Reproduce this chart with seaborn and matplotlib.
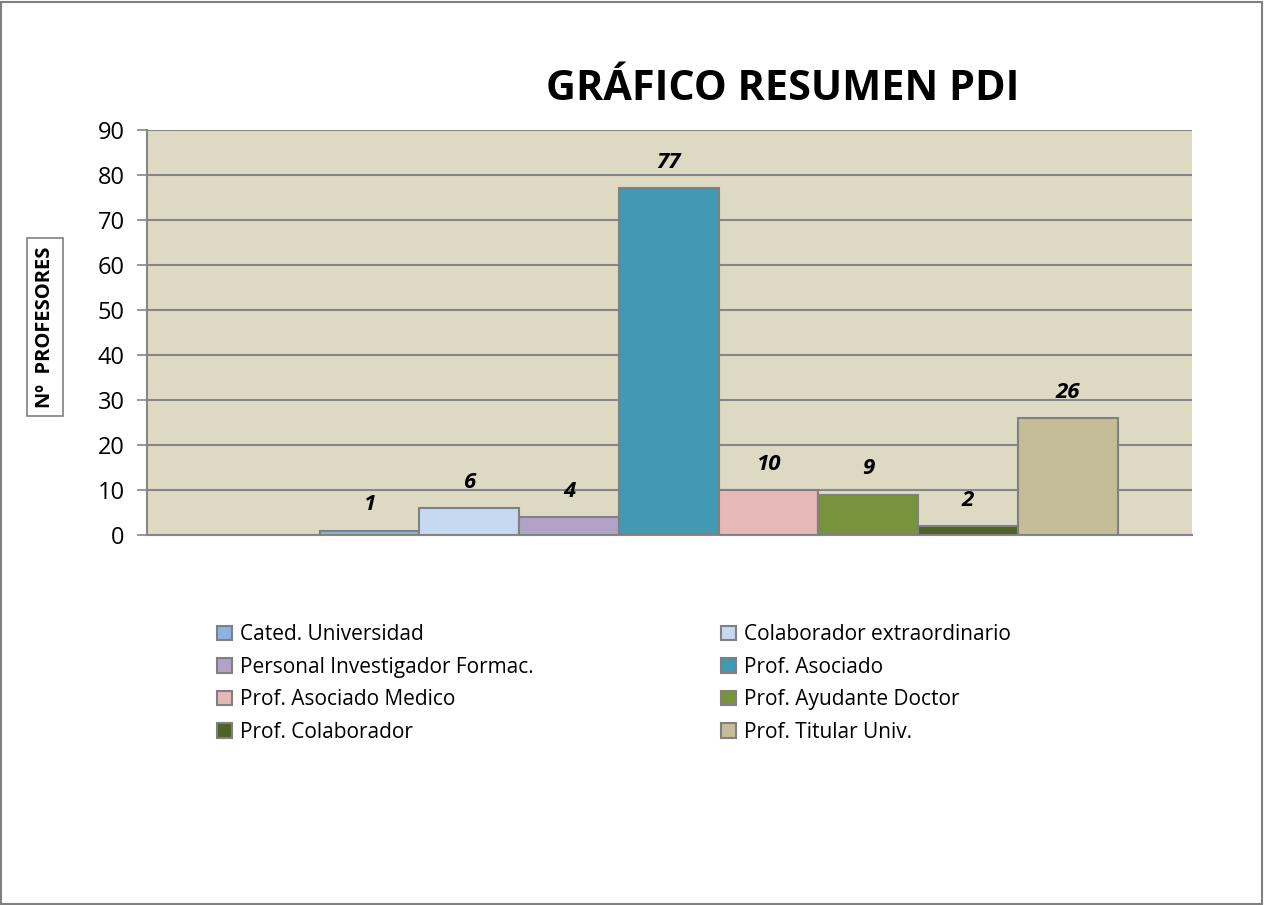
import matplotlib
matplotlib.use("Agg")
import matplotlib.pyplot as plt
import seaborn as sns
import pandas as pd
from matplotlib.patches import Rectangle, Patch

# datos del gráfico
categorias = ["Cated. Universidad", "Colaborador extraordinario",
              "Personal Investigador Formac.", "Prof. Asociado",
              "Prof. Asociado Medico", "Prof. Ayudante Doctor",
              "Prof. Colaborador", "Prof. Titular Univ."]
profesores = [1, 6, 4, 77, 10, 9, 2, 26]
colores = ["#8db3e2", "#c6d9f1", "#b3a2c7", "#4299b4",
           "#e6b9b8", "#77933c", "#4f6228", "#c4bd97"]

sns.set_style("white")
plt.rcParams['font.family'] = ['Open Sans', 'DejaVu Sans']
plt.rcParams['text.color'] = 'black'
plt.rcParams['ytick.labelcolor'] = 'black'

df = pd.DataFrame({"tipo": categorias, "n": profesores})
orden = [" "] + categorias  # hueco vacío al principio, como en el original

fig = plt.figure(figsize=(12.64, 9.05), dpi=100)
ax = fig.add_axes([0.1163, 0.4088, 0.827, 0.4476])
ax.set_facecolor("#ddd9c3")

sns.barplot(data=df, x="tipo", y="n", order=orden, hue="tipo",
            hue_order=categorias, palette=colores, saturation=1, width=1,
            dodge=False, legend=False, edgecolor="#808080", linewidth=1.5,
            ax=ax, zorder=3)

ax.set_xlim(-1.23, 9.25)
ax.set_ylim(0, 90)
ax.set_yticks(range(0, 91, 10))
ax.yaxis.grid(True, color="#868686", linewidth=1.5, zorder=0)
ax.set_axisbelow(True)
ax.set_xticks([])
ax.set_xlabel("")
ax.set_ylabel("")
ax.tick_params(axis="y", direction="out", length=7, width=1.2, color="#868686",
               labelsize=17, labelcolor="black", pad=9, left=True)
for s in ["top", "right"]:
    ax.spines[s].set_visible(False)
for s in ["left", "bottom"]:
    ax.spines[s].set_color("#868686")
    ax.spines[s].set_linewidth(1.5)

# etiquetas de valor
for i, v in enumerate(profesores):
    ax.annotate(str(v), (i + 1, v), xytext=(0, 11), textcoords="offset points",
                ha="center", va="bottom", fontsize=16, fontweight="bold",
                fontstyle="italic", color="black")

fig.text(0.619, 0.8895, "GRÁFICO RESUMEN PDI", ha="center", va="baseline",
         fontsize=29.8, fontweight="bold", color="black")

fig.text(0.0355, 0.6385, "Nº  PROFESORES", rotation=90, ha="center", va="center",
         fontsize=14.5, fontweight="bold", color="black",
         bbox=dict(boxstyle="square,pad=0.4", facecolor="white",
                   edgecolor="#808080", linewidth=1.2))

# leyenda en dos columnas, rellenada por filas
handles = [Patch(facecolor=c, edgecolor="#808080", linewidth=1.5) for c in colores]
idx = [0, 2, 4, 6, 1, 3, 5, 7]
leg = fig.legend([handles[i] for i in idx], [categorias[i] for i in idx], ncol=2,
                 loc="upper left", bbox_to_anchor=(0.157, 0.331), frameon=False,
                 fontsize=15, handlelength=0.7, handleheight=0.7,
                 handletextpad=0.4, columnspacing=9.0, labelspacing=0.55)
for t in leg.get_texts():
    t.set_color("black")

fig.patches.append(Rectangle((0.0008, 0.001), 0.998, 0.997, transform=fig.transFigure,
                             fill=False, edgecolor="#808080", linewidth=1.5))

fig.savefig("out.png", dpi=100)
